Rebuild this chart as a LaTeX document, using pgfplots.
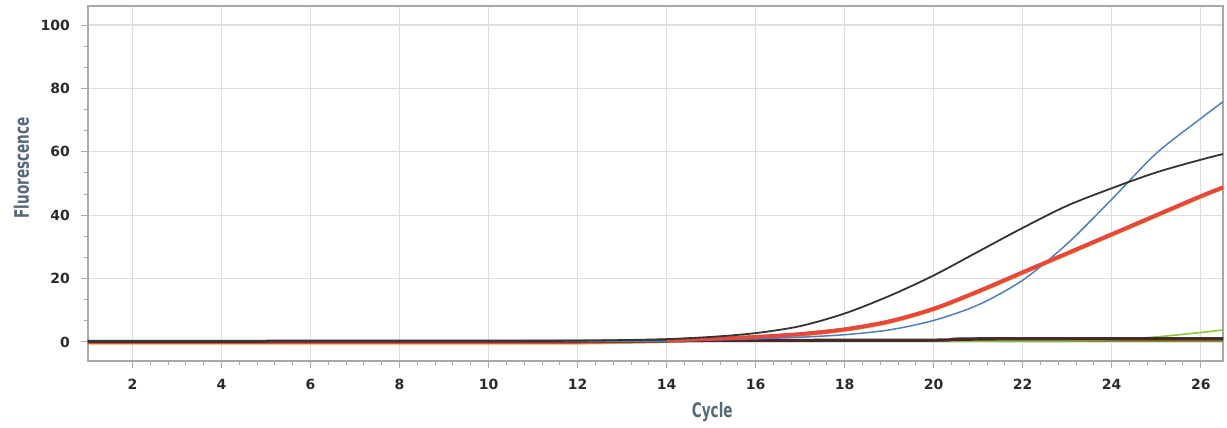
\documentclass[border=0pt]{standalone}
\usepackage{fontspec}
\setmainfont{DejaVu Sans}
\usepackage{graphicx}
\usepackage{pgfplots}
\usepackage{pgfplotstable}
\pgfplotsset{compat=1.18}
\definecolor{gridc}{HTML}{DCDFDC}
\definecolor{axisc}{HTML}{A8A8A8}
\definecolor{tickc}{HTML}{2A2A2A}
\definecolor{labc}{HTML}{56687A}
\definecolor{cblack}{HTML}{303634}
\definecolor{cred}{HTML}{E8473C}
\definecolor{corange}{HTML}{F2A03A}
\definecolor{cblue}{HTML}{4F7FBF}
\definecolor{cgreen}{HTML}{8CC63F}
\definecolor{cnavy}{HTML}{27405E}
\definecolor{colive}{HTML}{8B8B2B}
\definecolor{cbase}{HTML}{4A2826}

\pgfplotstableread{
x y
1 0.3
2 0.3
3 0.3
4 0.3
5 0.3
6 0.3
7 0.3
8 0.3
9 0.3
10 0.3
11 0.3
12 0.4
13 0.6
14 0.9
15 1.6
16 2.8
17 5.0
18 9.0
19 14.5
20 21.0
21 28.5
22 36.0
23 43.0
24 48.5
25 53.5
26 57.5
26.5 59.3
}\blackdata

\pgfplotstableread{
x y
1 0
2 0
3 0
4 0
5 0
6 0
7 0
8 0
9 0
10 0
11 0
12 0
13 0.2
14 0.5
15 1.0
16 1.6
17 2.5
18 4.0
19 6.5
20 10.5
21 16.0
22 22.0
23 28.0
24 34.0
25 40.0
26 46.0
26.5 48.8
}\reddata

\pgfplotstableread{
x y
1 0.2
2 0.2
3 0.2
4 0.2
5 0.2
6 0.2
7 0.2
8 0.2
9 0.2
10 0.2
11 0.2
12 0.2
13 0.2
14 0.2
15 0.6
16 1.0
17 1.5
18 2.3
19 3.8
20 6.8
21 11.7
22 19.5
23 31.0
24 45.0
25 59.5
26 70.5
26.5 75.8
}\bluedata

\pgfplotstableread{
x y
1 0.2
5 0.2
10 0.2
15 0.3
20 0.3
23 0.4
24 0.7
25 1.6
26 3.0
26.5 3.8
}\greendata

\pgfplotstableread{
x y
1 0.3
10 0.3
15 0.4
20 0.4
20.5 1.1
22 1.2
24 1.2
26.5 1.2
}\navydata

\pgfplotstableread{
x y
1 0.2
14 0.3
15 0.5
20 0.6
21 0.9
22 1.0
26.5 1.0
}\flatblackdata

\pgfplotstableread{
x y
15 0.3
26.5 0.3
}\olivedata

\begin{document}
\begin{tikzpicture}
\useasboundingbox (-44pt,-33.5pt) rectangle (569.5pt,180.5pt);
\begin{axis}[
  at={(0,0)}, anchor=south west,
  scale only axis, width=567.5pt, height=177.5pt,
  xmin=1, xmax=26.5, ymin=-6, ymax=106,
  xtick={2,4,...,26}, ytick={0,20,...,100},
  minor x tick num=4, minor y tick num=2,
  xtick pos=left, ytick pos=left,
  tick align=outside, major tick length=3.5pt, minor tick length=2pt,
  every tick/.style={color=axisc, line width=0.5pt},
  xmajorgrids, ymajorgrids,
  major grid style={color=gridc, line width=0.6pt},
  axis line style={color=axisc, line width=0.6pt},
  /pgf/number format/assume math mode=true,
  tick label style={font=\fontsize{7}{8}\selectfont\bfseries, text=tickc},
  xticklabel style={anchor=center, yshift=-8pt},
  yticklabel style={anchor=east, xshift=-2pt},
  xlabel={\scalebox{0.68}[1]{Cycle}},
  ylabel={\scalebox{0.68}[1]{Fluorescence}},
  label style={font=\fontsize{10}{12}\selectfont\bfseries, text=labc},
  xlabel style={at={(axis description cs:0.55,-0.1437)}, anchor=center},
  ylabel style={at={(axis description cs:-0.0586,0.544)}, anchor=center},
  clip=true,
]
\addplot[colive, line width=0.6pt] table[x=x,y=y]{\olivedata};
\addplot[cgreen, line width=0.8pt, smooth] table[x=x,y=y]{\greendata};
\addplot[cnavy, line width=1pt, smooth] table[x=x,y=y]{\navydata};
\addplot[corange, line width=1.4pt, smooth, yshift=-0.6pt] table[x=x,y=y]{\reddata};
\addplot[cred, line width=1.8pt, smooth] table[x=x,y=y]{\reddata};
\addplot[cbase, line width=1.5pt] table[x=x,y=y]{\flatblackdata};
\addplot[cblue, line width=0.75pt, smooth] table[x=x,y=y]{\bluedata};
\addplot[cred, line width=1.8pt, smooth, restrict x to domain=14:27] table[x=x,y=y]{\reddata};
\addplot[cblack, line width=0.9pt, smooth] table[x=x,y=y]{\blackdata};
\end{axis}
\end{tikzpicture}
\end{document}
